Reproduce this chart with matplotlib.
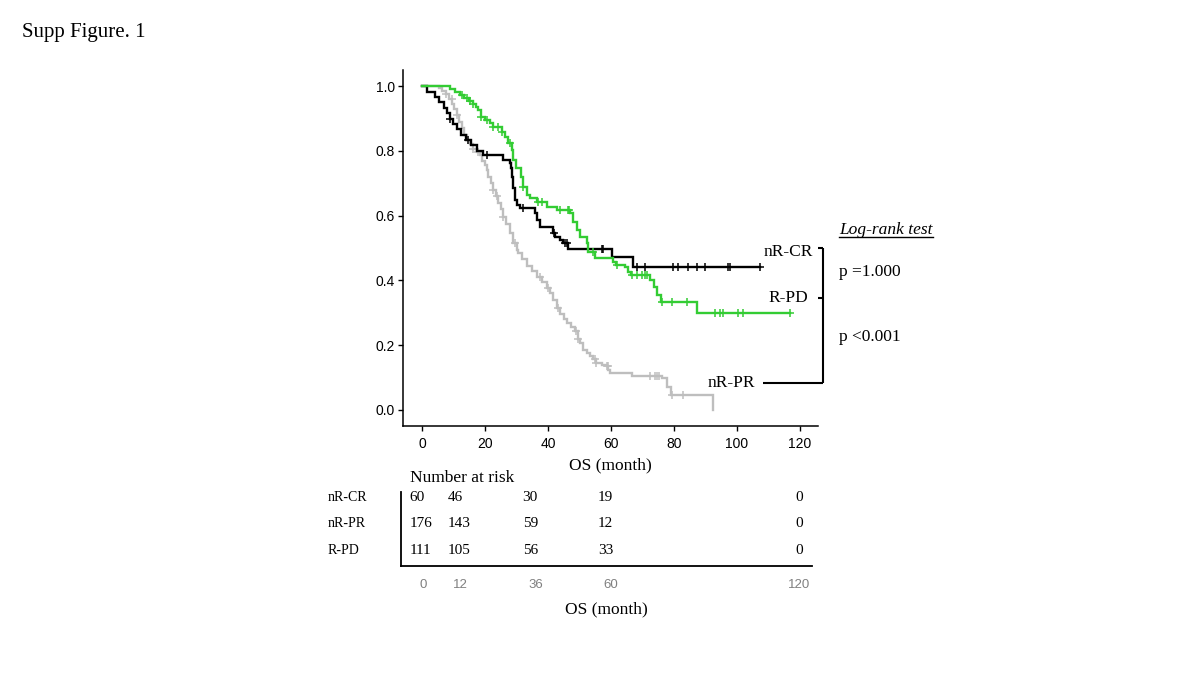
import numpy as np
import matplotlib
matplotlib.use("Agg")
import matplotlib.pyplot as plt
from matplotlib.transforms import offset_copy

# nR-CR (black): event times (months) and survival after each event
cr_t = [0, 1.5, 4.0, 5.5, 7.0, 8.0, 9.0, 10.0, 11.0, 12.5, 14.0, 15.5, 17.5, 19.5,
        25.7, 27.9, 28.3, 28.6, 29.0, 29.5, 30.2, 31.1, 35.9, 36.5, 37.5, 41.6,
        42.2, 43.8, 44.8, 46.3, 60.3, 67.0]
cr_s = [1.0, 0.983, 0.967, 0.950, 0.933, 0.917, 0.900, 0.883, 0.867, 0.850, 0.833,
        0.817, 0.800, 0.787, 0.772, 0.762, 0.747, 0.719, 0.685, 0.648, 0.633, 0.623,
        0.608, 0.586, 0.565, 0.546, 0.534, 0.525, 0.515, 0.498, 0.472, 0.440]
cr_end = 107.3
cr_cens = [9.0, 14.5, 20.5, 32.0, 42.0, 45.5, 46.0, 57.0, 57.6, 68.3, 70.8, 79.7,
           81.3, 84.4, 87.3, 89.8, 97.1, 97.8, 107.3]

# nR-PR (grey)
pr_t = [0, 5.5, 6.5, 7.5, 8.5, 9.5, 10.2, 11.0, 11.8, 12.6, 13.4, 14.2, 15.2, 16.3,
        17.4, 18.4, 19.2, 20.0, 20.5, 21.0, 21.8, 22.6, 23.4, 24.2, 25.0, 25.8, 26.8,
        27.9, 29.0, 30.1, 30.6, 31.8, 33.2, 34.8, 36.4, 38.0, 39.6, 40.6, 41.7, 42.8,
        43.8, 45.0, 45.9, 47.2, 48.6, 49.5, 50.2, 51.2, 52.3, 53.4, 54.4, 55.4, 57.0,
        58.6, 59.2, 59.7, 66.6, 76.1, 77.7, 79.0, 92.5]
pr_s = [1.0, 0.995, 0.985, 0.975, 0.960, 0.945, 0.930, 0.910, 0.890, 0.870, 0.850,
        0.833, 0.820, 0.807, 0.797, 0.787, 0.770, 0.756, 0.740, 0.720, 0.700, 0.679,
        0.660, 0.638, 0.620, 0.597, 0.575, 0.545, 0.514, 0.494, 0.484, 0.465, 0.445,
        0.430, 0.411, 0.395, 0.375, 0.360, 0.340, 0.315, 0.295, 0.280, 0.268, 0.255,
        0.242, 0.220, 0.205, 0.185, 0.175, 0.165, 0.157, 0.144, 0.139, 0.135, 0.123,
        0.113, 0.103, 0.098, 0.072, 0.046, 0.0]
pr_end = 92.5
pr_cens = [7.8, 9.4, 11.0, 16.3, 17.9, 22.6, 23.7, 25.8, 29.5, 37.5, 40.0, 43.2, 49.0,
           49.6, 55.0, 55.4, 58.6, 59.0, 72.4, 74.0, 74.6, 75.2, 79.5, 83.0]

# R-PD (green)
pd_t = [0, 9.0, 10.5, 12.0, 13.5, 15.0, 16.3, 17.3, 17.9, 18.9, 20.0, 21.5, 22.6,
        25.3, 26.3, 27.4, 28.5, 29.0, 30.0, 31.6, 32.2, 33.2, 34.3, 36.4, 39.6, 42.8,
        47.0, 48.0, 49.1, 50.2, 52.3, 52.8, 55.0, 60.5, 61.5, 64.5, 65.5, 66.5, 72.5,
        73.5, 74.5, 76.0, 87.3]
pd_s = [1.0, 0.991, 0.982, 0.973, 0.964, 0.955, 0.946, 0.937, 0.926, 0.905, 0.895,
        0.885, 0.874, 0.859, 0.844, 0.823, 0.802, 0.772, 0.746, 0.720, 0.689, 0.664,
        0.653, 0.643, 0.627, 0.617, 0.607, 0.581, 0.556, 0.535, 0.514, 0.489, 0.469,
        0.457, 0.448, 0.440, 0.426, 0.417, 0.401, 0.380, 0.355, 0.333, 0.300]
pd_end = 116.8
pd_cens = [12.6, 14.2, 15.2, 16.3, 18.9, 20.5, 22.6, 24.0, 25.3, 27.9, 32.2, 36.8,
           38.0, 43.8, 46.3, 46.8, 54.3, 61.9, 66.6, 68.3, 69.8, 70.8, 71.4, 76.2,
           79.4, 84.1, 93.0, 94.6, 95.6, 100.3, 101.9, 116.8]

# number at risk table
risk_times = [0, 12, 36, 60, 120]
risk_groups = ["nR-CR", "nR-PR", "R-PD"]
risk_nR_CR = [60, 46, 30, 19, 0]
risk_nR_PR = [176, 143, 59, 12, 0]
risk_R_PD = [111, 105, 56, 33, 0]

p_values = ["p =1.000", "p <0.001"]

SERIF = "Liberation Serif"
SANS = "Liberation Sans"
C_CR = "#000000"
C_PR = "#bebebe"
C_PD = "#33cc33"


def surv_at(t, s, x):
    idx = np.searchsorted(np.asarray(t), np.asarray(x), side="right") - 1
    return np.asarray(s)[idx]


def draw_curve(ax, t, s, end, cens, color):
    tt = list(t)
    ss = list(s)
    if end > tt[-1]:
        tt.append(end)
        ss.append(ss[-1])
    ax.step(tt, ss, where="post", color=color, lw=1.7, solid_joinstyle="miter")
    ax.plot(cens, surv_at(t, s, cens), ls="none", marker="+", ms=6, mew=1.1, color=color)


fig = plt.figure(figsize=(12, 6.75), dpi=100)
fig.patch.set_facecolor("white")

# main KM axes
ax = fig.add_axes([403 / 1200, 1 - 426 / 675, 415 / 1200, 356 / 675])
draw_curve(ax, pr_t, pr_s, pr_end, pr_cens, C_PR)
draw_curve(ax, cr_t, cr_s, cr_end, cr_cens, C_CR)
draw_curve(ax, pd_t, pd_s, pd_end, pd_cens, C_PD)

ax.set_xlim(-6.0, 125.7)
ax.set_ylim(-0.05, 1.05)
ax.set_xticks(np.arange(0, 121, 20))
ax.set_yticks(np.arange(0, 1.01, 0.2))
ax.set_yticklabels([f"{v:.1f}" for v in np.arange(0, 1.01, 0.2)])
for side in ("top", "right"):
    ax.spines[side].set_visible(False)
for side in ("left", "bottom"):
    ax.spines[side].set_linewidth(1.1)
ax.tick_params(length=3.5, width=1.0, pad=2.5, labelsize=10, colors="black")
ax.tick_params(axis="x", pad=4.5)
for lab in ax.get_xticklabels() + ax.get_yticklabels():
    lab.set_fontfamily(SANS)
ax.set_xlabel("OS (month)", family=SERIF, fontsize=12.5, labelpad=4.5)

# curve labels and bracket for the log-rank comparison
kw = dict(family=SERIF, fontsize=12.5, va="center", clip_on=False)
ax.text(116.2, 0.488, "nR-CR", ha="center", **kw)
ax.text(116.2, 0.346, "R-PD", ha="center", **kw)
ax.text(105.7, 0.083, "nR-PR", ha="right", **kw)
lk = dict(color="black", lw=1.5, clip_on=False, solid_capstyle="butt")
ax.plot([108.3, 127.3], [0.083, 0.083], **lk)
ax.plot([127.3, 127.3], [0.083, 0.50], **lk)
ax.plot([125.6, 127.3], [0.50, 0.50], **lk)
ax.plot([125.6, 127.3], [0.346, 0.346], **lk)

lr = ax.text(132.4, 0.556, "Log-rank test", ha="left", style="italic", **kw)
ax.text(132.4, 0.426, p_values[0], ha="left", **kw)
ax.text(132.4, 0.225, p_values[1], ha="left", **kw)

fig.text(22 / 1200, 1 - 33 / 675, "Supp Figure. 1", family=SERIF, fontsize=15,
         ha="left", va="center")

# risk table axes
tx = fig.add_axes([401 / 1200, 1 - 566 / 675, 411 / 1200, 74 / 675])
tx.set_xlim(-7.0, 124.2)
tx.set_ylim(2.6, -0.19)
for side in ("top", "right"):
    tx.spines[side].set_visible(False)
for side in ("left", "bottom"):
    tx.spines[side].set_linewidth(1.3)
tx.set_yticks([])
tx.set_xticks(risk_times)
tx.tick_params(axis="x", length=0, pad=9.5, labelsize=9.5, labelcolor="#808080")
for lab in tx.get_xticklabels():
    lab.set_fontfamily(SANS)
tx.set_xlabel("OS (month)", family=SERIF, fontsize=12.5, labelpad=7)

left_shift = offset_copy(tx.transData, fig=fig, x=-9.4, y=0, units="points")
for i, row in enumerate([risk_nR_CR, risk_nR_PR, risk_R_PD]):
    for t, n in zip(risk_times, row):
        if t == risk_times[-1]:
            tx.text(t, i, str(n), ha="center", va="center", family=SERIF, fontsize=11)
        else:
            tx.text(t, i, str(n), ha="left", va="center", family=SERIF, fontsize=11,
                    transform=left_shift)
    tx.text(-0.178, i, risk_groups[i], ha="left", va="center", family=SERIF,
            fontsize=10, transform=tx.get_yaxis_transform())
tx.text(410 / 1200, 1 - 478 / 675, "Number at risk", transform=fig.transFigure,
        ha="left", va="center", family=SERIF, fontsize=12.5)

# underline the log-rank title
fig.canvas.draw()
bb = lr.get_window_extent().transformed(fig.transFigure.inverted())
fig.add_artist(plt.Line2D([bb.x0, bb.x1], [bb.y0 + 0.001, bb.y0 + 0.001],
                          transform=fig.transFigure, color="black", lw=1.0))

fig.savefig("out.png", dpi=100)
